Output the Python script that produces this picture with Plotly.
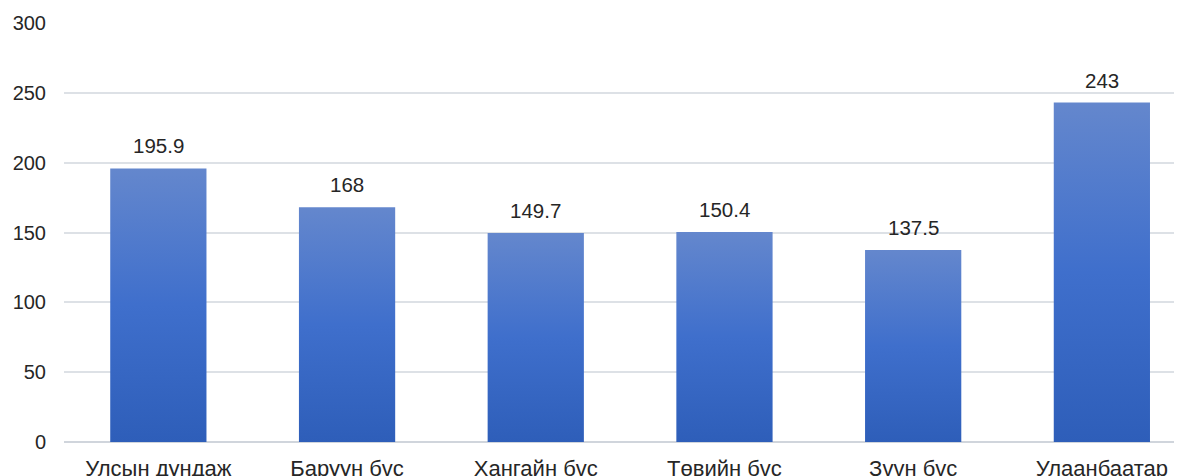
import plotly.graph_objects as go

categories = ["Улсын дундаж", "Баруун бүс", "Хангайн бүс", "Төвийн бүс", "Зүүн бүс", "Улаанбаатар"]
values = [195.9, 168, 149.7, 150.4, 137.5, 243]
value_labels = ["195.9", "168", "149.7", "150.4", "137.5", "243"]
y_ticks = [0, 50, 100, 150, 200, 250, 300]

BAR_HALF = 0.255
grad = [[0, "#2E5EB9"], [0.5, "#3F6FCC"], [1, "#6487CD"]]
FONT = "Liberation Sans, Arial, sans-serif"

fig = go.Figure()
for i, v in enumerate(values):
    fig.add_trace(go.Scatter(
        x=[i - BAR_HALF, i + BAR_HALF, i + BAR_HALF, i - BAR_HALF, i - BAR_HALF],
        y=[0, 0, v, v, 0],
        mode="lines",
        line=dict(width=0),
        fill="toself",
        fillgradient=dict(type="vertical", colorscale=grad),
        hoverinfo="skip",
        showlegend=False,
    ))

for i, (v, lab) in enumerate(zip(values, value_labels)):
    fig.add_annotation(
        x=i, y=v, text=lab, showarrow=False,
        xanchor="center", yanchor="bottom", yshift=9,
        font=dict(family=FONT, size=20.5, color="#262626"),
    )

fig.update_layout(
    width=1182,
    height=476,
    margin=dict(l=56, r=0, t=15, b=42),
    paper_bgcolor="white",
    plot_bgcolor="white",
    font=dict(family=FONT, size=20, color="#262626"),
    xaxis=dict(
        range=[-0.5, 5.467],
        tickvals=list(range(len(categories))),
        ticktext=categories,
        showgrid=False,
        zeroline=False,
        showline=False,
        ticks="",
        ticklabelstandoff=11,
        tickfont=dict(size=22, color="#262626"),
        fixedrange=True,
    ),
    yaxis=dict(
        range=[0, 300],
        tickvals=y_ticks,
        showgrid=True,
        gridcolor="#DDE1E6",
        gridwidth=1.5,
        zeroline=True,
        zerolinecolor="#D0D5DC",
        zerolinewidth=1.5,
        showline=False,
        ticks="",
        ticklabelstandoff=17,
        tickfont=dict(size=20, color="#262626"),
        fixedrange=True,
    ),
)

fig.write_html("out.html")
